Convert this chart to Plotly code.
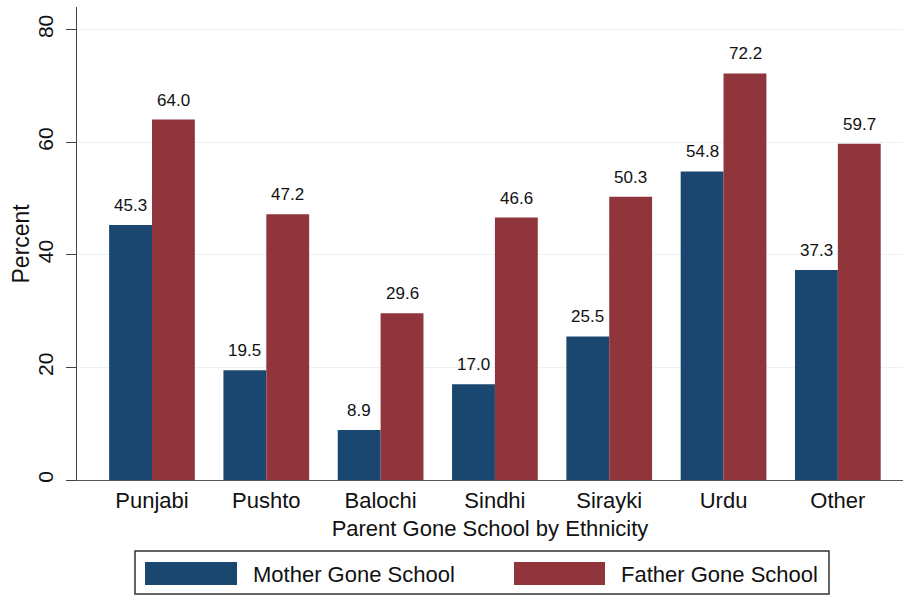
import plotly.graph_objects as go

# data
ethnicity = ["Punjabi", "Pushto", "Balochi", "Sindhi", "Sirayki", "Urdu", "Other"]
mother = [45.3, 19.5, 8.9, 17.0, 25.5, 54.8, 37.3]
father = [64.0, 47.2, 29.6, 46.6, 50.3, 72.2, 59.7]
series_names = ["Mother Gone School", "Father Gone School"]
y_ticks = [0, 20, 40, 60, 80]

BLUE = "#1a476f"
RED = "#90353b"
FONT = "Arial, Liberation Sans, sans-serif"

W, H = 903, 595
L, R, T, B = 77, 0, 7, 115  # plot area margins in px


def px_x(p):
    return (p - L) / (W - L - R)


def px_y(p):
    return (H - B - p) / (H - T - B)


fig = go.Figure()
fig.add_trace(go.Bar(x=ethnicity, y=mother, name=series_names[0],
                     marker_color=BLUE, marker_line_width=0))
fig.add_trace(go.Bar(x=ethnicity, y=father, name=series_names[1],
                     marker_color=RED, marker_line_width=0))

# value labels above each bar
annos = []
for vals, shift in ((mother, -21.5), (father, 21.5)):
    for cat, v in zip(ethnicity, vals):
        annos.append(dict(x=cat, y=v, text=f"{v:.1f}", showarrow=False,
                          xshift=shift, yshift=8, yanchor="bottom",
                          font=dict(size=17, color="#111", family=FONT)))

# y title placed by hand (closer to the axis than plotly's standoff allows)
annos.append(dict(xref="paper", yref="paper", x=px_x(20), y=0.5, text="Percent",
                  textangle=-90, showarrow=False, xanchor="center", yanchor="middle",
                  font=dict(size=23, color="#111", family=FONT)))

# hand-drawn legend (Stata style wide swatches)
shapes = [
    dict(type="rect", xref="paper", yref="paper",
         x0=px_x(135), x1=px_x(829), y0=px_y(551), y1=px_y(594),
         line=dict(color="#333", width=1.5), fillcolor="white"),
    dict(type="rect", xref="paper", yref="paper",
         x0=px_x(145), x1=px_x(237), y0=px_y(562), y1=px_y(585),
         line=dict(width=0), fillcolor=BLUE),
    dict(type="rect", xref="paper", yref="paper",
         x0=px_x(514), x1=px_x(605), y0=px_y(562), y1=px_y(585),
         line=dict(width=0), fillcolor=RED),
]
for name, xpos in ((series_names[0], 251), (series_names[1], 619)):
    annos.append(dict(xref="paper", yref="paper", x=px_x(xpos), y=px_y(574),
                      xanchor="left", yanchor="middle", text=name, showarrow=False,
                      font=dict(size=22, color="#111", family=FONT)))

fig.update_layout(
    width=W, height=H,
    margin=dict(l=L, r=R, t=T, b=B),
    paper_bgcolor="white", plot_bgcolor="white",
    barmode="group", bargap=0.25, bargroupgap=0,
    showlegend=False,
    font=dict(family=FONT, color="#111"),
    annotations=annos, shapes=shapes,
    xaxis=dict(
        range=[-0.656, 6.57], showline=True, linecolor="#555", linewidth=1,
        ticks="", ticklabelstandoff=1, tickfont=dict(size=22),
        title=dict(text="Parent Gone School by Ethnicity", font=dict(size=22), standoff=8),
        showgrid=False,
    ),
    yaxis=dict(
        range=[0, 84], tickvals=y_ticks, tickangle=-90, tickfont=dict(size=21),
        ticks="outside", ticklen=10, tickcolor="#444",
        showline=True, linecolor="#444", linewidth=1,
        showgrid=True, gridcolor="#eaf2f3", gridwidth=1, zeroline=False,
        ticklabelstandoff=5,
    ),
)

# drop the default page margin so the figure sits at the window's corner
fig.write_html("out.html", config={"displayModeBar": False},
               post_script="document.body.style.margin='0';")
